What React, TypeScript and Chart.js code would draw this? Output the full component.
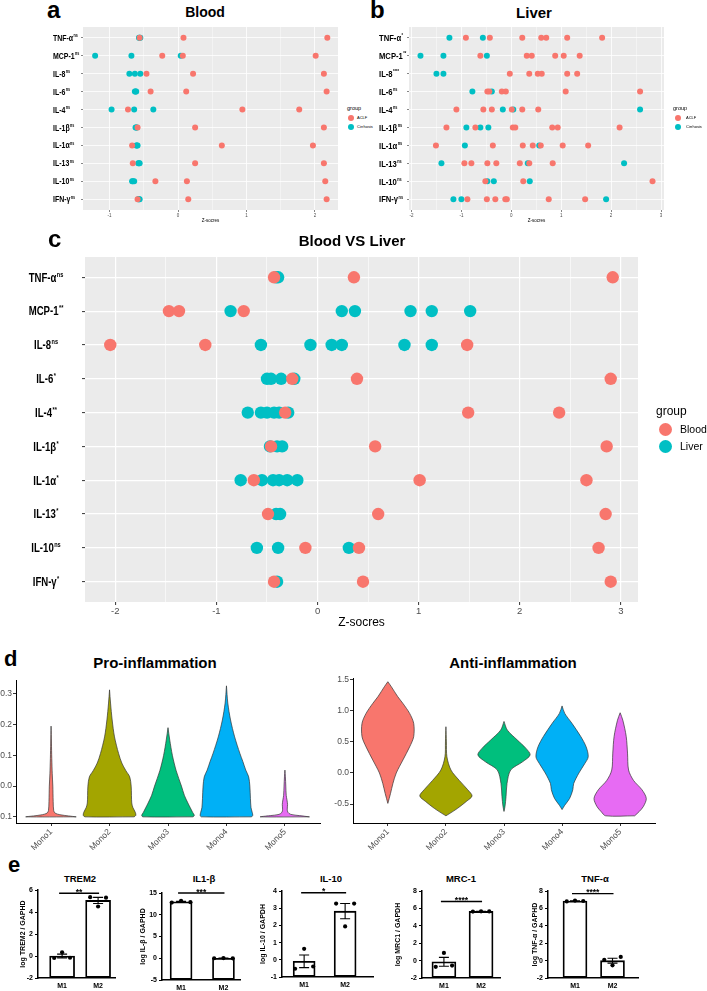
import React, { useEffect, useRef } from 'react';
import { Chart, registerables } from 'chart.js';

Chart.register(...registerables);

const SANS = "'Liberation Sans', Arial, sans-serif";
const NARROW = "'Liberation Sans Narrow', 'Liberation Sans', Arial, sans-serif";
Chart.defaults.font.family = SANS;
Chart.defaults.color = '#4D4D4D';

const RED = '#F8766D';
const TEAL = '#00BFC4';
const VIOLIN_COLORS = ['#F8766D', '#A3A500', '#00BF7D', '#00B0F6', '#E76BF3'];

// ---------------- Data: panels a, b, c ----------------
const CYTOKINES = ['TNF-α', 'MCP-1', 'IL-8', 'IL-6', 'IL-4', 'IL-1β', 'IL-1α', 'IL-13', 'IL-10', 'IFN-γ'];
const BLOOD_SIG = ['ns', 'ns', 'ns', 'ns', 'ns', 'ns', 'ns', 'ns', 'ns', 'ns'];
const LIVER_SIG = ['*', '**', '****', 'ns', 'ns', 'ns', 'ns', 'ns', 'ns', 'ns'];
const BVL_SIG = ['ns', '**', 'ns', '*', '**', '*', '*', '*', 'ns', '*'];

const BLOOD_XTICKS = [-1, 0, 1, 2];
const LIVER_XTICKS = [-2, -1, 0, 1, 2, 3];
const BVL_XTICKS = [-2, -1, 0, 1, 2, 3];

const BLOOD_ACLF = [
  [-0.56, 0.08, 2.18],
  [-0.23, 0.07, 2.01],
  [-0.46, 0.22, 2.13],
  [-0.4, 0.12, 2.17],
  [-0.73, 0.94, 1.77],
  [-0.59, 0.25, 2.13],
  [-0.67, 0.64, 1.97],
  [-0.66, 0.25, 2.13],
  [-0.33, 0.13, 2.15],
  [-0.59, 0.15, 2.17],
];
const BLOOD_CIRRHOSIS = [
  [-0.57, -0.56, -0.55],
  [-1.21, -0.68, 0.04],
  [-0.71, -0.63, -0.55],
  [-0.63, -0.62, -0.61],
  [-0.97, -0.64, -0.36],
  [-0.62, -0.61, -0.6],
  [-0.61, -0.6, -0.59],
  [-0.58, -0.57, -0.56],
  [-0.67, -0.66, -0.64],
  [-0.58, -0.57, -0.56],
];
const LIVER_ACLF = [
  [-0.91, -0.43, 0.22, 0.6, 0.7, 1.12, 1.82],
  [-0.62, 0.31, 0.41, 0.88, 1.05, 1.37],
  [-0.03, 0.36, 0.53, 0.61, 1.12, 1.32],
  [-0.48, -0.44, -0.19, -0.11, 1.09, 2.58],
  [-1.1, -0.56, -0.39, 0.01, 0.22, 0.54],
  [-1.3, -0.72, 0.03, 0.08, 0.82, 0.93, 2.17],
  [-1.51, -0.37, 0.23, 0.43, 0.59, 1.03, 1.54],
  [-0.94, -0.8, -0.48, -0.3, 0.17, 0.36, 0.83],
  [-0.52, 0.24, 2.83],
  [-0.88, -0.49, -0.32, -0.12, -0.09, 0.75, 1.48],
];
const LIVER_CIRRHOSIS = [
  [-1.24, -0.57],
  [-1.82, -1.36, -0.49],
  [-1.5, -1.36],
  [-0.78, -0.39],
  [-0.17, 0.04, 2.58],
  [-0.9, -0.62, -0.46],
  [-0.93, 0.56],
  [-1.4, 0.33, 2.26],
  [-0.48, -0.35, 0.37],
  [-1.16, -1.0, 1.9],
];
const BVL_BLOOD = [
  [-0.43, 0.36, 2.92],
  [-1.47, -1.37, -0.73],
  [-2.05, -1.11, 1.48],
  [-0.25, 0.39, 2.9],
  [-0.32, 1.49, 2.39],
  [-0.46, 0.57, 2.86],
  [-0.63, 1.01, 2.66],
  [-0.49, 0.6, 2.85],
  [-0.12, 0.41, 2.78],
  [-0.43, 0.45, 2.9],
];
const BVL_LIVER = [
  [-0.41, -0.39],
  [-0.86, 0.24, 0.37, 0.92, 1.13, 1.51],
  [-0.56, -0.07, 0.14, 0.24, 0.86, 1.13],
  [-0.5, -0.46, -0.36, -0.23],
  [-0.69, -0.56, -0.5, -0.43, -0.38, -0.29],
  [-0.47, -0.4, -0.35],
  [-0.76, -0.55, -0.44, -0.38, -0.3, -0.2],
  [-0.41, -0.37],
  [-0.6, -0.39, 0.31],
  [-0.4],
];

// ---------------- Data: panel d (violin profiles: [value, half-width]) ----------------
const MONOS = ['Mono1', 'Mono2', 'Mono3', 'Mono4', 'Mono5'];
const PRO_YTICKS = [-0.1, 0.0, 0.1, 0.2, 0.3];
const ANTI_YTICKS = [-0.5, 0.0, 0.5, 1.0, 1.5];

const PRO_MONO1 = [[-0.1, 0.43], [-0.097, 0.3], [-0.093, 0.15], [-0.088, 0.07], [-0.08, 0.045], [-0.05, 0.036], [0.0, 0.03], [0.04, 0.02], [0.09, 0.012], [0.14, 0.006], [0.195, 0]];
const PRO_MONO2 = [[-0.1, 0.42], [-0.095, 0.45], [-0.085, 0.44], [-0.07, 0.4], [-0.055, 0.38], [-0.03, 0.375], [0.0, 0.37], [0.03, 0.345], [0.05, 0.28], [0.075, 0.21], [0.106, 0.155], [0.16, 0.085], [0.215, 0.045], [0.27, 0.017], [0.313, 0]];
const PRO_MONO3 = [[-0.1, 0.43], [-0.095, 0.45], [-0.085, 0.42], [-0.07, 0.38], [-0.055, 0.34], [-0.03, 0.28], [0.0, 0.23], [0.05, 0.14], [0.1, 0.075], [0.15, 0.03], [0.19, 0]];
const PRO_MONO4 = [[-0.1, 0.43], [-0.095, 0.45], [-0.085, 0.44], [-0.07, 0.42], [-0.04, 0.41], [0.0, 0.4], [0.03, 0.38], [0.052, 0.33], [0.08, 0.28], [0.106, 0.23], [0.16, 0.14], [0.215, 0.07], [0.27, 0.023], [0.326, 0]];
const PRO_MONO5 = [[-0.1, 0.42], [-0.096, 0.25], [-0.092, 0.1], [-0.085, 0.05], [-0.075, 0.04], [-0.06, 0.045], [-0.045, 0.035], [-0.03, 0.022], [0.0, 0.015], [0.03, 0.008], [0.052, 0]];

const ANTI_MONO1 = [[-0.49, 0], [-0.33, 0.046], [-0.17, 0.087], [0.0, 0.145], [0.21, 0.26], [0.42, 0.375], [0.585, 0.445], [0.8, 0.445], [0.96, 0.375], [1.12, 0.26], [1.23, 0.17], [1.39, 0.06], [1.47, 0]];
const ANTI_MONO2 = [[-0.69, 0], [-0.65, 0.07], [-0.57, 0.2], [-0.46, 0.35], [-0.37, 0.45], [-0.27, 0.375], [-0.12, 0.23], [0.047, 0.087], [0.26, 0.017], [0.5, 0.008], [0.745, 0]];
const ANTI_MONO3 = [[-0.62, 0], [-0.54, 0.017], [-0.38, 0.035], [-0.17, 0.052], [0.047, 0.115], [0.18, 0.32], [0.29, 0.45], [0.4, 0.375], [0.53, 0.23], [0.69, 0.058], [0.83, 0]];
const ANTI_MONO4 = [[-0.59, 0], [-0.52, 0.046], [-0.41, 0.13], [-0.27, 0.185], [-0.17, 0.2], [0.0, 0.29], [0.15, 0.39], [0.26, 0.45], [0.42, 0.415], [0.59, 0.32], [0.8, 0.17], [0.96, 0.046], [1.08, 0]];
const ANTI_MONO5 = [[-0.69, 0.25], [-0.62, 0.33], [-0.54, 0.4], [-0.41, 0.45], [-0.27, 0.375], [-0.12, 0.23], [0.047, 0.145], [0.32, 0.127], [0.59, 0.104], [0.85, 0.046], [0.97, 0]];

// ---------------- Data: panel e (qPCR) ----------------
const QPCR_GROUPS = ['M1', 'M2'];
const QPCR_TITLES = ['TREM2', 'IL1-β', 'IL-10', 'MRC-1', 'TNF-α'];
const QPCR_YLABELS = ['log TREM2 / GAPHD', 'log IL-β / GAPHD', 'log IL-10 / GAPDH', 'log MRC1 / GAPDH', 'log TNF-α / GAPHD'];
const QPCR_YMIN = [-2, -5, -1, -2, -2];
const QPCR_YMAX = [6, 15, 4, 8, 8];
const QPCR_YSTEP = [2, 5, 1, 2, 2];
const QPCR_STARS = ['**', '***', '*', '****', '****'];
const QPCR_SIG_Y = [5.7, 15, 3.9, 6.8, 7.7];
const TREM2_M1 = [-0.18, 0.34, -0.16];
const TREM2_M2 = [5.35, 4.5, 5.3];
const IL1B_M1 = [12.8, 13.2, 12.9];
const IL1B_M2 = [0.0, 0.05, -0.02];
const IL10_M1 = [-0.52, 0.64, -0.39];
const IL10_M2 = [3.27, 1.94, 3.27];
const MRC1_M1 = [-0.72, 0.88, -0.57];
const MRC1_M2 = [5.64, 5.66, 5.65];
const TNFA_M1 = [6.8, 6.9, 6.85];
const TNFA_M2 = [0.1, -0.54, 0.42];
const QPCR_VALUES = [
  [TREM2_M1, TREM2_M2],
  [IL1B_M1, IL1B_M2],
  [IL10_M1, IL10_M2],
  [MRC1_M1, MRC1_M2],
  [TNFA_M1, TNFA_M2],
];

// ---------------- layout (styles only) ----------------
const JITTER = [-0.22, 0, 0.22];
const QPCR_LAYOUT = [
  { axisX: 38, endX: 115, topPx: 890, botPx: 978, titleD: 15, xMin: -0.67, xMax: 1.47, barW: 25, titleX: 80 },
  { axisX: 162, endX: 240, topPx: 893, botPx: 980, titleD: 19, xMin: -0.45, xMax: 1.39, barW: 22, titleX: 204 },
  { axisX: 282, endX: 373, topPx: 891, botPx: 977, titleD: 19, xMin: -0.54, xMax: 1.68, barW: 22, titleX: 331 },
  { axisX: 422, endX: 500, topPx: 891, botPx: 978, titleD: 24, xMin: -0.59, xMax: 1.51, barW: 24, titleX: 461 },
  { axisX: 548, endX: 638, topPx: 891, botPx: 978, titleD: 13, xMin: -0.72, xMax: 1.68, barW: 24, titleX: 595 },
];

// ---------------- helpers ----------------
const mean = (a: number[]) => a.reduce((s, v) => s + v, 0) / a.length;
const sem = (a: number[]) => {
  const m = mean(a);
  const sd = Math.sqrt(a.reduce((s, v) => s + (v - m) * (v - m), 0) / (a.length - 1));
  return sd / Math.sqrt(a.length);
};
const toPoints = (rows: number[][]) => rows.flatMap((vals, i) => vals.map((v) => ({ x: v, y: i })));
const withMinor = (major: number[], min: number, max: number) => {
  const vals = [major[0] - 0.5, ...major.flatMap((m) => [m, m + 0.5])];
  return vals.filter((v) => v >= min && v <= max).map((value) => ({ value }));
};
const violinPolygon = (center: number, profile: number[][]) => {
  const right = profile.map(([y, w]) => ({ x: center + w, y }));
  const left = profile.slice().reverse().map(([y, w]) => ({ x: center - w, y }));
  return [...right, ...left, right[0]];
};

// ---------------- plugins ----------------
const panelBg = {
  id: 'panelBg',
  beforeDraw(chart: any, _a: any, opts: any) {
    if (!opts || !opts.color) return;
    const { ctx, chartArea } = chart;
    ctx.save();
    ctx.fillStyle = opts.color;
    ctx.fillRect(chartArea.left, chartArea.top, chartArea.right - chartArea.left, chartArea.bottom - chartArea.top);
    ctx.restore();
  },
};

// category labels with superscripts, horizontally condensed like the source figure
const catLabels = {
  id: 'catLabels',
  afterDraw(chart: any, _a: any, o: any) {
    const ys = chart.scales.y;
    const ctx = chart.ctx;
    const sq = o.squeeze || 1;
    o.labels.forEach((lab: string, i: number) => {
      const y = ys.getPixelForValue(i) + o.size * 0.36;
      ctx.save();
      ctx.fillStyle = '#000';
      ctx.textBaseline = 'alphabetic';
      ctx.textAlign = 'left';
      ctx.font = `bold ${o.size}px ${o.family}`;
      const w = ctx.measureText(lab).width;
      ctx.font = `bold ${o.supSize}px ${o.family}`;
      const sw = ctx.measureText(o.sups[i]).width;
      const total = (w + sw + 0.5) * sq;
      const x = o.align === 'center' ? o.x - total / 2 : o.x;
      ctx.translate(x, y);
      ctx.scale(sq, 1);
      ctx.font = `bold ${o.size}px ${o.family}`;
      ctx.fillText(lab, 0, 0);
      ctx.font = `bold ${o.supSize}px ${o.family}`;
      ctx.fillText(o.sups[i], w + 0.5, -o.size * 0.42);
      ctx.restore();
    });
  },
};

const qpcrExtras = {
  id: 'qpcrExtras',
  afterDatasetDraw(chart: any, args: any, o: any) {
    if (args.index !== 0) return;
    const { ctx } = chart;
    const xs = chart.scales.x;
    const ys = chart.scales.y;
    ctx.save();
    ctx.strokeStyle = '#000';
    ctx.lineWidth = 1.1;
    o.groups.forEach((vals: number[], i: number) => {
      const m = mean(vals);
      const s = sem(vals);
      const x = xs.getPixelForValue(i);
      const y1 = ys.getPixelForValue(m - s);
      const y2 = ys.getPixelForValue(m + s);
      ctx.beginPath();
      ctx.moveTo(x, y1);
      ctx.lineTo(x, y2);
      ctx.moveTo(x - o.cap, y1);
      ctx.lineTo(x + o.cap, y1);
      ctx.moveTo(x - o.cap, y2);
      ctx.lineTo(x + o.cap, y2);
      ctx.stroke();
    });
    ctx.restore();
  },
  afterDraw(chart: any, _a: any, o: any) {
    const { ctx } = chart;
    const xs = chart.scales.x;
    const ys = chart.scales.y;
    const ly = ys.getPixelForValue(o.sigY);
    const x1 = xs.getPixelForValue(0) - 3;
    const x2 = xs.getPixelForValue(1) + 1;
    ctx.save();
    ctx.strokeStyle = '#000';
    ctx.lineWidth = 1.4;
    ctx.beginPath();
    ctx.moveTo(x1, ly);
    ctx.lineTo(x2, ly);
    ctx.stroke();
    ctx.fillStyle = '#000';
    ctx.font = `bold 8.5px ${SANS}`;
    ctx.textAlign = 'center';
    ctx.textBaseline = 'alphabetic';
    ctx.fillText(o.stars, (x1 + x2) / 2, ly + 1.5);
    ctx.restore();
  },
};

// ---------------- configs ----------------
function dotPanelConfig(p: any) {
  const isMajor = (v: number) => p.xTicks.includes(v);
  return {
    type: 'scatter',
    data: {
      datasets: [
        { label: p.redLabel, data: toPoints(p.red), backgroundColor: RED, pointRadius: p.r, pointHoverRadius: p.r, pointBorderWidth: 0, order: 0 },
        { label: p.tealLabel, data: toPoints(p.teal), backgroundColor: TEAL, pointRadius: p.r, pointHoverRadius: p.r, pointBorderWidth: 0, order: 1 },
      ],
    },
    options: {
      responsive: false,
      animation: false,
      devicePixelRatio: 1,
      layout: { padding: { top: p.padTop, right: p.padRight, left: 0, bottom: 0 } },
      plugins: {
        legend: { display: false },
        tooltip: { enabled: false },
        panelBg: { color: '#EBEBEB' },
        catLabels: { labels: CYTOKINES, sups: p.sigs, x: p.labelX, align: p.labelAlign, size: p.labelSize, supSize: p.supSize, family: SANS, squeeze: p.squeeze },
      },
      scales: {
        x: {
          type: 'linear',
          min: p.xMin,
          max: p.xMax,
          afterBuildTicks: (ax: any) => {
            ax.ticks = withMinor(p.xTicks, p.xMin, p.xMax);
          },
          afterFit: (s: any) => {
            s.height = p.xHeight;
          },
          ticks: {
            autoSkip: false,
            maxRotation: 0,
            padding: p.tickPad,
            font: { size: p.tickSize, family: NARROW },
            color: '#4D4D4D',
            callback: (v: number) => (isMajor(v) ? String(v) : ''),
          },
          grid: {
            color: '#FFFFFF',
            lineWidth: (c: any) => (c.tick && isMajor(c.tick.value) ? p.majorW : p.minorW),
            tickLength: p.tickLen,
            tickWidth: p.tickW,
            tickColor: (c: any) => (c.tick && isMajor(c.tick.value) ? '#333333' : 'rgba(0,0,0,0)'),
          },
          border: { display: false },
          title: { display: true, text: 'Z-socres', color: '#000', font: { size: p.titleSize, family: SANS }, padding: { top: 0, bottom: p.titlePadBottom } },
        },
        y: {
          type: 'linear',
          reverse: true,
          min: -0.6,
          max: CYTOKINES.length - 0.4,
          afterBuildTicks: (ax: any) => {
            ax.ticks = CYTOKINES.map((_, i) => ({ value: i }));
          },
          afterFit: (s: any) => {
            s.width = p.yWidth;
          },
          ticks: { display: false },
          grid: { color: '#FFFFFF', lineWidth: p.majorW, tickLength: p.tickLen, tickWidth: p.tickW, tickColor: '#333333' },
          border: { display: false },
        },
      },
    },
    plugins: [panelBg, catLabels],
  };
}

function violinConfig(p: any) {
  return {
    type: 'scatter',
    data: {
      datasets: p.profiles.map((prof: number[][], i: number) => ({
        data: violinPolygon(i + 1, prof),
        showLine: true,
        fill: 'shape',
        backgroundColor: VIOLIN_COLORS[i],
        borderColor: '#333333',
        borderWidth: 0.7,
        pointRadius: 0,
        pointHoverRadius: 0,
        tension: 0.3,
      })),
    },
    options: {
      responsive: false,
      animation: false,
      devicePixelRatio: 1,
      layout: { padding: { top: p.padTop, right: p.padRight, left: 0, bottom: 0 } },
      plugins: { legend: { display: false }, tooltip: { enabled: false } },
      scales: {
        x: {
          type: 'linear',
          min: 0.4,
          max: MONOS.length + 0.6,
          afterBuildTicks: (ax: any) => {
            ax.ticks = MONOS.map((_, i) => ({ value: i + 1 }));
          },
          afterFit: (s: any) => {
            s.height = p.xHeight;
          },
          ticks: { autoSkip: false, minRotation: 45, maxRotation: 45, padding: 1, font: { size: 8.5 }, color: '#4D4D4D', callback: (v: number) => MONOS[Math.round(v) - 1] },
          grid: { drawOnChartArea: false, tickLength: 3, color: '#333333' },
          border: { color: '#000', width: 1 },
        },
        y: {
          type: 'linear',
          min: p.yMin,
          max: p.yMax,
          afterBuildTicks: (ax: any) => {
            ax.ticks = p.yTicks.map((value: number) => ({ value }));
          },
          afterFit: (s: any) => {
            s.width = p.yWidth;
          },
          ticks: { padding: 1, font: { size: 8.5 }, color: '#4D4D4D', callback: (v: number) => v.toFixed(1) },
          grid: { drawOnChartArea: false, tickLength: 3, color: '#333333' },
          border: { color: '#000', width: 1 },
        },
      },
    },
  };
}

function qpcrConfig(i: number) {
  const L = QPCR_LAYOUT[i];
  const [m1, m2] = QPCR_VALUES[i];
  const yMin = QPCR_YMIN[i];
  const titleFontSize = 7;
  return {
    type: 'bar',
    data: {
      datasets: [
        {
          type: 'bar',
          data: [
            { x: 0, y: mean(m1) },
            { x: 1, y: mean(m2) },
          ],
          base: yMin,
          backgroundColor: '#FFFFFF',
          borderColor: '#000000',
          borderWidth: 1.8,
          borderSkipped: false,
          barThickness: L.barW,
          order: 2,
        },
        {
          type: 'scatter',
          data: [...m1.map((v, k) => ({ x: 0 + JITTER[k], y: v })), ...m2.map((v, k) => ({ x: 1 + JITTER[k], y: v }))],
          backgroundColor: '#000',
          pointRadius: 2.1,
          pointHoverRadius: 2.1,
          pointBorderWidth: 0,
          order: 0,
        },
      ],
    },
    options: {
      responsive: false,
      animation: false,
      devicePixelRatio: 1,
      layout: { padding: { top: L.topPx - 880, right: 6, left: 0, bottom: 0 } },
      plugins: {
        legend: { display: false },
        tooltip: { enabled: false },
        qpcrExtras: { groups: [m1, m2], cap: 5, sigY: QPCR_SIG_Y[i], stars: QPCR_STARS[i] },
      },
      scales: {
        x: {
          type: 'linear',
          offset: false,
          min: L.xMin,
          max: L.xMax,
          afterBuildTicks: (ax: any) => {
            ax.ticks = QPCR_GROUPS.map((_, k) => ({ value: k }));
          },
          afterFit: (s: any) => {
            s.height = 991 - L.botPx;
          },
          ticks: { autoSkip: false, maxRotation: 0, padding: 4, font: { size: 7, weight: 'bold', family: NARROW }, color: '#000', callback: (v: number) => QPCR_GROUPS[Math.round(v)] },
          grid: { display: false, drawTicks: false },
          border: { display: true, color: '#000', width: 1.5 },
        },
        y: {
          type: 'linear',
          min: yMin,
          max: QPCR_YMAX[i],
          ticks: { stepSize: QPCR_YSTEP[i], padding: 2, font: { size: 7, weight: 'bold', family: NARROW }, color: '#000' },
          afterFit: (s: any) => {
            s.width = 40;
          },
          grid: { display: true, drawOnChartArea: false, tickLength: 3, color: '#000', lineWidth: 1 },
          border: { display: true, color: '#000', width: 1.5 },
          title: {
            display: true,
            text: QPCR_YLABELS[i],
            color: '#000',
            font: { size: titleFontSize, weight: 'bold', family: NARROW },
            padding: { top: 40 - L.titleD - titleFontSize * 0.6, bottom: 0 },
          },
        },
      },
    },
    plugins: [qpcrExtras],
  };
}

// ---------------- components ----------------
type Box = { left: number; top: number; width: number; height: number };

function ChartBox({ box, build }: { box: Box; build: () => any }) {
  const ref = useRef<HTMLCanvasElement>(null);
  useEffect(() => {
    const chart = new Chart(ref.current as HTMLCanvasElement, build());
    return () => chart.destroy();
  }, []);
  return (
    <canvas
      ref={ref}
      width={box.width}
      height={box.height}
      style={{ position: 'absolute', left: box.left, top: box.top, width: box.width, height: box.height }}
    />
  );
}

function Txt({ x, base, size, text, bold = true, align = 'left', family = SANS, color = '#000' }: any) {
  return (
    <div
      style={{
        position: 'absolute',
        left: x,
        top: base - size * 0.846,
        fontFamily: family,
        fontSize: size,
        fontWeight: bold ? 700 : 400,
        lineHeight: 1,
        whiteSpace: 'nowrap',
        color,
        transform: align === 'center' ? 'translateX(-50%)' : undefined,
      }}
    >
      {text}
    </div>
  );
}

function Legend({ x, y, title, items, colors, titleSize, itemSize, r, dotX, textX, step }: any) {
  return (
    <>
      <Txt x={x} base={y + titleSize * 0.25} size={titleSize} text={title} bold={false} />
      {items.map((it: string, k: number) => {
        const cy = y + step * (k + 1);
        return (
          <React.Fragment key={it}>
            <div style={{ position: 'absolute', left: dotX - r, top: cy - r, width: 2 * r, height: 2 * r, borderRadius: '50%', background: colors[k] }} />
            <Txt x={textX} base={cy + itemSize * 0.36} size={itemSize} text={it} bold={false} />
          </React.Fragment>
        );
      })}
    </>
  );
}

export default function App() {
  return (
    <div style={{ position: 'absolute', left: 0, top: 0, width: 707, height: 991, background: '#fff', overflow: 'hidden' }}>
      {/* panel a */}
      <Txt x={47} base={18} size={24} text="a" />
      <Txt x={205} base={17} size={14} text="Blood" align="center" />
      <ChartBox
        box={{ left: 0, top: 22, width: 345, height: 205 }}
        build={() =>
          dotPanelConfig({
            red: BLOOD_ACLF, teal: BLOOD_CIRRHOSIS, redLabel: 'ACLF', tealLabel: 'Cirrhosis', sigs: BLOOD_SIG,
            xTicks: BLOOD_XTICKS, xMin: -1.387, xMax: 2.336, padTop: 5, padRight: 7, yWidth: 83, xHeight: 17,
            r: 3, labelX: 53, labelAlign: 'left', labelSize: 8.5, supSize: 4.5, squeeze: 0.82, tickSize: 4.5, tickPad: 1, tickLen: 2,
            tickW: 0.6, majorW: 0.8, minorW: 0.4, titleSize: 4.5, titlePadBottom: 4,
          })
        }
      />
      <Legend x={347} y={109} title="group" items={['ACLF', 'Cirrhosis']} colors={[RED, TEAL]} titleSize={5.5} itemSize={4} r={3} dotX={351} textX={357} step={9} />

      {/* panel b */}
      <Txt x={370} base={18} size={24} text="b" />
      <Txt x={534} base={18} size={15} text="Liver" align="center" />
      <ChartBox
        box={{ left: 350, top: 22, width: 357, height: 205 }}
        build={() =>
          dotPanelConfig({
            red: LIVER_ACLF, teal: LIVER_CIRRHOSIS, redLabel: 'ACLF', tealLabel: 'Cirrhosis', sigs: LIVER_SIG,
            xTicks: LIVER_XTICKS, xMin: -2.05, xMax: 3.06, padTop: 5, padRight: 43, yWidth: 59, xHeight: 17,
            r: 3, labelX: 29, labelAlign: 'left', labelSize: 9, supSize: 4.5, squeeze: 0.85, tickSize: 4.5, tickPad: 1, tickLen: 2,
            tickW: 0.6, majorW: 0.8, minorW: 0.4, titleSize: 4.5, titlePadBottom: 4,
          })
        }
      />
      <Legend x={673} y={109} title="group" items={['ACLF', 'Cirrhosis']} colors={[RED, TEAL]} titleSize={5.5} itemSize={4} r={3} dotX={678} textX={686} step={9} />

      {/* panel c */}
      <Txt x={48} base={247} size={24} text="c" />
      <Txt x={352} base={246} size={15} text="Blood VS Liver" align="center" />
      <ChartBox
        box={{ left: 0, top: 250, width: 707, height: 395 }}
        build={() =>
          dotPanelConfig({
            red: BVL_BLOOD, teal: BVL_LIVER, redLabel: 'Blood', tealLabel: 'Liver', sigs: BVL_SIG,
            xTicks: BVL_XTICKS, xMin: -2.3, xMax: 3.17, padTop: 7, padRight: 69, yWidth: 85, xHeight: 43,
            r: 6.2, labelX: 46, labelAlign: 'center', labelSize: 12, supSize: 7, squeeze: 0.8, tickSize: 9.5, tickPad: 1, tickLen: 3,
            tickW: 1, majorW: 1.2, minorW: 0.6, titleSize: 12, titlePadBottom: 15,
          })
        }
      />
      <Legend x={656} y={412} title="group" items={['Blood', 'Liver']} colors={[RED, TEAL]} titleSize={12} itemSize={10.5} r={6.5} dotX={665} textX={680} step={17} />

      {/* panel d */}
      <Txt x={4} base={667} size={22} text="d" />
      <Txt x={155} base={668} size={15} text="Pro-inflammation" align="center" />
      <Txt x={513} base={668} size={15} text="Anti-inflammation" align="center" />
      <ChartBox
        box={{ left: 0, top: 670, width: 330, height: 180 }}
        build={() =>
          violinConfig({
            profiles: [PRO_MONO1, PRO_MONO2, PRO_MONO3, PRO_MONO4, PRO_MONO5],
            yTicks: PRO_YTICKS, yMin: -0.12, yMax: 0.345, padTop: 10, padRight: 10, yWidth: 16, xHeight: 27,
          })
        }
      />
      <ChartBox
        box={{ left: 330, top: 670, width: 377, height: 180 }}
        build={() =>
          violinConfig({
            profiles: [ANTI_MONO1, ANTI_MONO2, ANTI_MONO3, ANTI_MONO4, ANTI_MONO5],
            yTicks: ANTI_YTICKS, yMin: -0.806, yMax: 1.53, padTop: 8, padRight: 52, yWidth: 23, xHeight: 27,
          })
        }
      />

      {/* panel e */}
      <Txt x={8} base={873} size={22} text="e" />
      {QPCR_LAYOUT.map((L, i) => (
        <React.Fragment key={QPCR_TITLES[i]}>
          <Txt x={L.titleX} base={882} size={9.5} text={QPCR_TITLES[i]} align="center" family={NARROW} />
          <ChartBox
            box={{ left: L.axisX - 40, top: 880, width: 40 + (L.endX - L.axisX) + 6, height: 111 }}
            build={() => qpcrConfig(i)}
          />
        </React.Fragment>
      ))}
    </div>
  );
}
